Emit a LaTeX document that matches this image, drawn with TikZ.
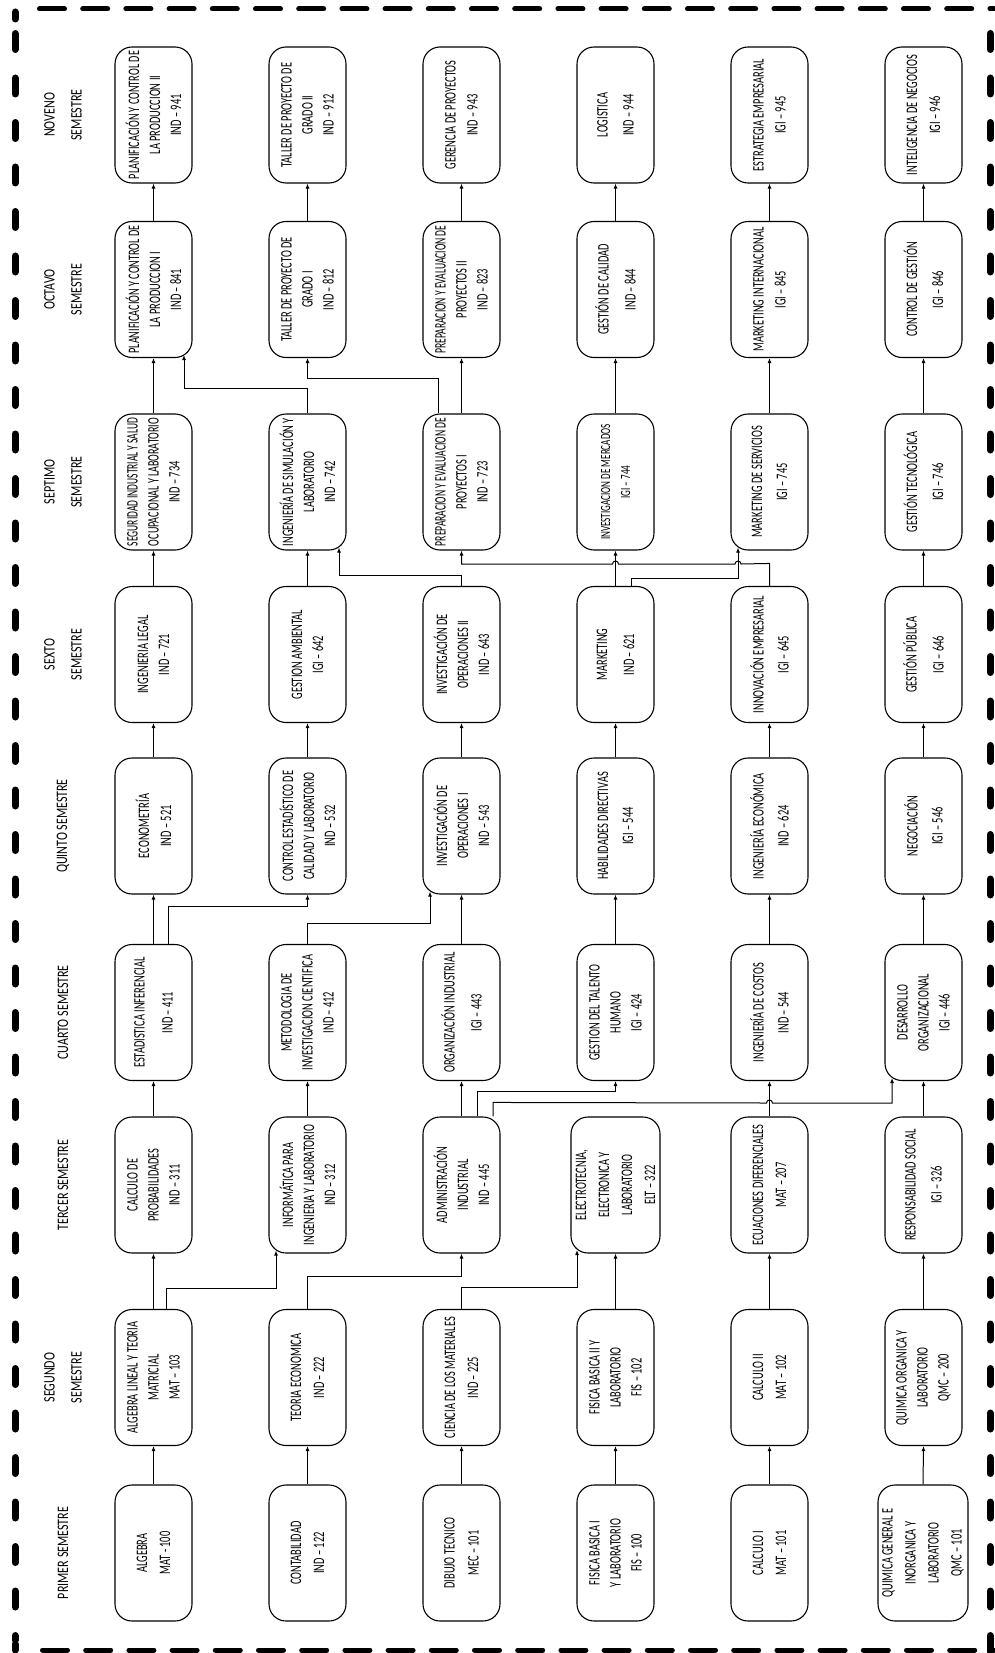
\documentclass[tikz,border=0pt]{standalone}
\usepackage{fontspec}
\usepackage{graphicx}
\usetikzlibrary{arrows.meta}
\newfontfamily\boxfont[FakeStretch=0.65]{Carlito}
\newfontfamily\headfont[FakeStretch=0.75]{Carlito}
\newsavebox\fitlbox
\newlength\fitlmax
\setlength\fitlmax{128pt}
\newcommand\fitl[1]{\sbox\fitlbox{#1}\ifdim\wd\fitlbox>\fitlmax\resizebox{\fitlmax}{\ht\fitlbox}{\usebox\fitlbox}\else\usebox\fitlbox\fi}
\begin{document}
\begin{tikzpicture}[x=1pt,y=-1pt,
  box/.style={draw, line width=1.1pt, rounded corners=17pt, minimum width=136pt, minimum height=77pt, rotate=90, align=center, inner sep=0pt, font=\boxfont\fontsize{16}{21}\selectfont},
  head/.style={rotate=90, align=center, inner sep=0pt, font=\headfont\fontsize{16}{27}\selectfont},
  arr/.style={line width=1pt, -{Latex[length=5pt,width=4pt]}},
  hbord/.style={line width=5pt, line cap=round, dash pattern=on 25pt off 18.2pt},
  vbord/.style={line width=7pt, line cap=round, dash pattern=on 16pt off 28.5pt}
]
\useasboundingbox (0,0) rectangle (994,1653);
% border
\draw[hbord] (39.5,9) -- (994,9);
\draw[hbord] (42.5,1650) -- (994,1650);
\draw[vbord] (15,33.5) -- (15,1640);
\draw[vbord] (990,33.5) -- (990,1653);
\draw[line width=7pt, line cap=round] (15,19) -- (15,12);
\draw[line width=7pt, line cap=round] (15,1644) -- (15,1650);

% headers
\node[head] (h1) at (63,1553) {PRIMER SEMESTRE};
\node[head] (h2) at (63,1377.5) {SEGUNDO\\SEMESTRE};
\node[head] (h3) at (63,1185) {TERCER SEMESTRE};
\node[head] (h4) at (63,1012.5) {CUARTO SEMESTRE};
\node[head] (h5) at (63,826) {QUINTO SEMESTRE};
\node[head] (h6) at (63,654.5) {SEXTO\\SEMESTRE};
\node[head] (h7) at (63,482) {SEPTIMO\\SEMESTRE};
\node[head] (h8) at (63,289.5) {OCTAVO\\SEMESTRE};
\node[head] (h9) at (63,115) {NOVENO\\SEMESTRE};

% row 1
\node[box] (n11) at (153.5,1553) {\fitl{ALGEBRA}\\[2pt]\fitl{MAT - 100}};
\node[box] (n12) at (153.5,1377.5) {\fitl{ALGEBRA LINEAL Y TEORIA}\\\fitl{MATRICIAL}\\\fitl{MAT – 103}};
\node[box] (n13) at (153.5,1185) {\fitl{CALCULO DE}\\\fitl{PROBABILIDADES}\\\fitl{IND – 311}};
\node[box] (n14) at (153.5,1012.5) {\fitl{ESTADISTICA INFERENCIAL}\\[7pt]\fitl{IND – 411}};
\node[box] (n15) at (153.5,826) {\fitl{ECONOMETRÍA}\\[1pt]\fitl{IND – 521}};
\node[box] (n16) at (153.5,654.5) {\fitl{INGENIERIA LEGAL}\\\fitl{IND – 721}};
\node[box] (n17) at (153.5,482) {\fitl{SEGURIDAD INDUSTRIAL Y SALUD}\\\fitl{OCUPACIONAL Y LABORATORIO}\\\fitl{IND – 734}};
\node[box] (n18) at (153.5,289.5) {\fitl{PLANIFICACIÓN Y CONTROL DE}\\\fitl{LA PRODUCCION I}\\\fitl{IND – 841}};
\node[box] (n19) at (153.5,115) {\fitl{PLANIFICACIÓN Y CONTROL DE}\\\fitl{LA PRODUCCION II}\\\fitl{IND – 941}};

% row 2
\node[box] (n21) at (307.5,1553) {\fitl{CONTABILIDAD}\\[2pt]\fitl{IND – 122}};
\node[box] (n22) at (307.5,1377.5) {\fitl{TEORIA ECONOMICA}\\[2pt]\fitl{IND – 222}};
\node[box] (n23) at (307.5,1185) {\fitl{INFORMÁTICA PARA}\\\fitl{INGENIERIA Y LABORATORIO}\\\fitl{IND – 312}};
\node[box] (n24) at (307.5,1012.5) {\fitl{METODOLOGIA DE}\\\fitl{INVESTIGACION CIENTIFICA}\\\fitl{IND – 412}};
\node[box] (n25) at (307.5,826) {\fitl{CONTROL ESTADÍSTICO DE}\\\fitl{CALIDAD Y LABORATORIO}\\\fitl{IND – 532}};
\node[box] (n26) at (307.5,654.5) {\fitl{GESTION AMBIENTAL}\\\fitl{IGI – 642}};
\node[box] (n27) at (307.5,482) {\fitl{INGENIERÍA DE SIMULACIÓN Y}\\\fitl{LABORATORIO}\\\fitl{IND – 742}};
\node[box] (n28) at (307.5,289.5) {\fitl{TALLER DE PROYECTO DE}\\\fitl{GRADO I}\\\fitl{IND – 812}};
\node[box] (n29) at (307.5,115) {\fitl{TALLER DE PROYECTO DE}\\\fitl{GRADO II}\\\fitl{IND – 912}};

% row 3
\node[box] (n31) at (461.5,1553) {\fitl{DIBUJO TECNICO}\\[3pt]\fitl{MEC – 101}};
\node[box] (n32) at (461.5,1377.5) {\fitl{CIENCIA DE LOS MATERIALES}\\[2pt]\fitl{IND – 225}};
\node[box] (n33) at (461.5,1185) {\fitl{ADMINISTRACIÓN}\\\fitl{INDUSTRIAL}\\\fitl{IND – 445}};
\node[box] (n34) at (461.5,1012.5) {\fitl{ORGANIZACIÓN INDUSTRIAL}\\[6pt]\fitl{IGI – 443}};
\node[box] (n35) at (461.5,826) {\fitl{INVESTIGACIÓN DE}\\\fitl{OPERACIONES I}\\\fitl{IND – 543}};
\node[box] (n36) at (461.5,654.5) {\fitl{INVESTIGACIÓN DE}\\\fitl{OPERACIONES II}\\\fitl{IND – 643}};
\node[box] (n37) at (461.5,482) {\fitl{PREPARACION Y EVALUACION DE}\\\fitl{PROYECTOS I}\\\fitl{IND – 723}};
\node[box] (n38) at (461.5,289.5) {\fitl{PREPARACION Y EVALUACION DE}\\\fitl{PROYECTOS II}\\\fitl{IND – 823}};
\node[box] (n39) at (461.5,115) {\fitl{GERENCIA DE PROYECTOS}\\[1pt]\fitl{IND – 943}};

% row 4
\node[box] (n41) at (615.5,1553) {\fitl{FISICA BASICA I}\\\fitl{Y LABORATORIO}\\\fitl{FIS – 100}};
\node[box] (n42) at (615.5,1377.5) {\fitl{FISICA BASICA II Y}\\\fitl{LABORATORIO}\\\fitl{FIS – 102}};
\node[box, minimum height=89pt] (n43) at (615.5,1185) {\fitl{ELECTROTECNIA,}\\[2pt]\fitl{ELECTRONICA Y}\\[2pt]\fitl{LABORATORIO}\\[2pt]\fitl{ELT – 322}};
\node[box] (n44) at (615.5,1012.5) {\fitl{GESTION DEL TALENTO}\\\fitl{HUMANO}\\\fitl{IGI – 424}};
\node[box] (n45) at (615.5,826) {\fitl{HABILIDADES DIRECTIVAS}\\[4pt]\fitl{IGI – 544}};
\node[box] (n46) at (615.5,654.5) {\fitl{MARKETING}\\[6pt]\fitl{IND – 621}};
\node[box, font=\boxfont\fontsize{14}{20}\selectfont] (n47) at (615.5,482) {\fitl{INVESTIGACION DE MERCADOS}\\\fitl{IGI – 744}};
\node[box] (n48) at (615.5,289.5) {\fitl{GESTIÓN DE CALIDAD}\\[6pt]\fitl{IND – 844}};
\node[box] (n49) at (615.5,115) {\fitl{LOGISTICA}\\[5pt]\fitl{IND – 944}};

% row 5
\node[box] (n51) at (769.5,1553) {\fitl{CALCULO I}\\[2pt]\fitl{MAT – 101}};
\node[box] (n52) at (769.5,1377.5) {\fitl{CALCULO II}\\[2pt]\fitl{MAT – 102}};
\node[box] (n53) at (769.5,1185) {\fitl{ECUACIONES DIFERENCIALES}\\[2pt]\fitl{MAT – 207}};
\node[box] (n54) at (769.5,1012.5) {\fitl{INGENIERÍA DE COSTOS}\\[4pt]\fitl{IND – 544}};
\node[box] (n55) at (769.5,826) {\fitl{INGENIERÍA ECONÓMICA}\\[4pt]\fitl{IND – 624}};
\node[box] (n56) at (769.5,654.5) {\fitl{INNOVACIÓN EMPRESARIAL}\\[4pt]\fitl{IGI – 645}};
\node[box] (n57) at (769.5,482) {\fitl{MARKETING DE SERVICIOS}\\[4pt]\fitl{IGI – 745}};
\node[box] (n58) at (769.5,289.5) {\fitl{MARKETING INTERNACIONAL}\\[1pt]\fitl{IGI – 845}};
\node[box] (n59) at (769.5,115) {\fitl{ESTRATEGIA EMPRESARIAL}\\[1pt]\fitl{IGI – 945}};

% row 6
\node[box, minimum height=90pt] (n61) at (923,1553) {\fitl{QUIMICA GENERAL E}\\[2pt]\fitl{INORGANICA Y}\\[2pt]\fitl{LABORATORIO}\\[2pt]\fitl{QMC – 101}};
\node[box] (n62) at (923.5,1377.5) {\fitl{QUIMICA ORGANICA Y}\\\fitl{LABORATORIO}\\\fitl{QMC – 200}};
\node[box] (n63) at (923.5,1185) {\fitl{RESPONSABILIDAD SOCIAL}\\[5pt]\fitl{IGI – 326}};
\node[box] (n64) at (923.5,1012.5) {\fitl{DESARROLLO}\\\fitl{ORGANIZACIONAL}\\\fitl{IGI – 446}};
\node[box] (n65) at (923.5,826) {\fitl{NEGOCIACIÓN}\\[4pt]\fitl{IGI – 546}};
\node[box] (n66) at (923.5,654.5) {\fitl{GESTIÓN PÚBLICA}\\[6pt]\fitl{IGI – 646}};
\node[box] (n67) at (923.5,482) {\fitl{GESTIÓN TECNOLÓGICA}\\[5pt]\fitl{IGI – 746}};
\node[box] (n68) at (923.5,289.5) {\fitl{CONTROL DE GESTIÓN}\\[5pt]\fitl{IGI – 846}};
\node[box] (n69) at (923.5,115) {\fitl{INTELIGENCIA DE NEGOCIOS}\\[2pt]\fitl{IGI – 946}};

% straight connectors
\foreach \a/\b in {11/12,12/13,13/14,14/15,15/16,16/17,17/18,18/19,
                   21/22,23/24,25/26,26/27,28/29,
                   31/32,33/34,34/35,35/36,37/38,38/39,
                   41/42,42/43,44/45,45/46,46/47,47/48,48/49,
                   51/52,52/53,53/54,54/55,55/56,57/58,58/59,
                   62/63,63/64,64/65,65/66,66/67,67/68,68/69}
  \draw[arr] (n\a.east) -- (n\b.west);
\draw[arr] (n61.east) -- (n62.west);

% elbow connectors
\draw[arr] ([xshift=12.5]n12.east) -- ++(0,-20.5) -| ([xshift=-31.5,yshift=3]n23.west);
\draw[arr] (n22.east) -- ++(0,-32.5) -| (n33.west);
\draw[arr] (n32.east) -- ++(0,-21.5) -| ([xshift=-38.5,yshift=3.5]n43.west);
\draw[arr] ([xshift=15.5]n33.east) -- ++(0,-25) -| (n44.west);
\draw[arr] ([xshift=31.5]n33.east) -- ++(0,-14) -- (766.5,1103) arc[start angle=180,end angle=0,radius=3pt] -| ([xshift=-31.5,yshift=3]n64.west);
\draw[arr] ([xshift=14.5]n14.east) -- ++(0,-37.5) -| (n25.west);
\draw[arr] (n24.east) -- ++(0,-20.5) -| ([xshift=-31.5,yshift=3]n35.west);
\draw[arr] (n36.east) -- ++(0,-10.5) -| ([xshift=31.5,yshift=3]n27.west);
\draw[arr] (n56.east) -- ++(0,-22.5) -- (741,564) arc[start angle=0,end angle=180,radius=3pt] -- (618.5,564) arc[start angle=0,end angle=180,radius=3pt] -| (n37.west);
\draw[arr] ([xshift=15.5]n46.east) -- ++(0,-7.5) -| ([xshift=-31.5,yshift=3]n57.west);
\draw[arr] (n27.east) -- ++(0,-25) -| ([xshift=30.5,yshift=3]n18.west);
\draw[arr] ([xshift=-23.5]n37.east) -- ++(0,-35) -| (n28.west);
\end{tikzpicture}
\end{document}
